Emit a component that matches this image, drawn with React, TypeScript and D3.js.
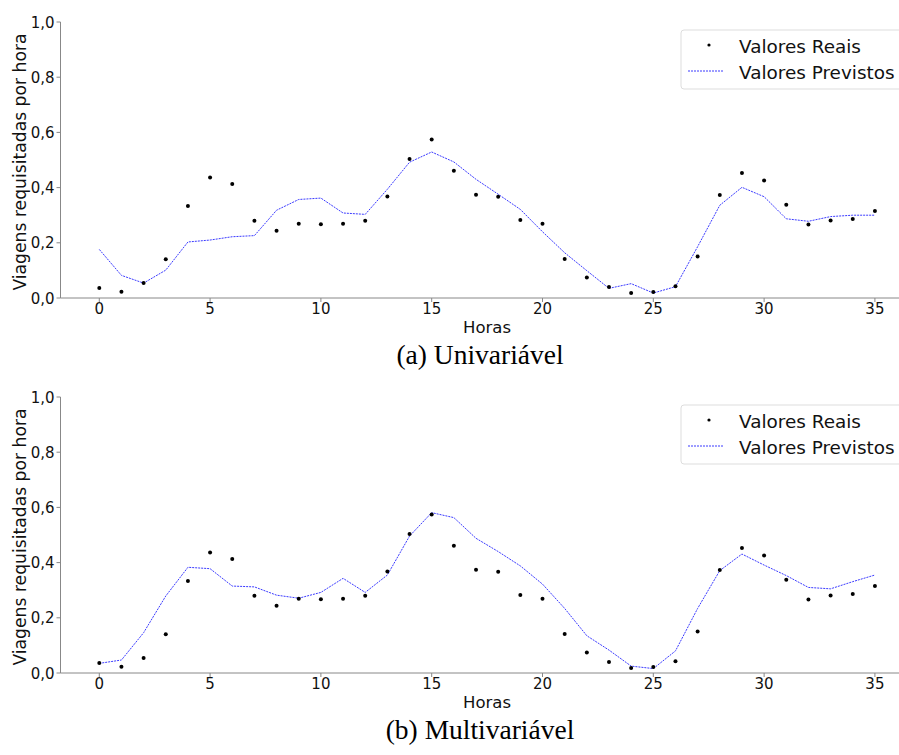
import React from "react";
import * as d3 from "d3";

const hours: number[] = Array.from({ length: 36 }, (_, i) => i);
const realValues: number[] = [
  0.036, 0.023, 0.054, 0.14, 0.333, 0.437, 0.413, 0.28, 0.244, 0.269, 0.267, 0.269,
  0.28, 0.368, 0.504, 0.574, 0.461, 0.374, 0.367, 0.283, 0.269, 0.141, 0.074, 0.04,
  0.018, 0.022, 0.043, 0.15, 0.373, 0.453, 0.426, 0.338, 0.266, 0.281, 0.286, 0.315,
];
const predUni: number[] = [
  0.176, 0.082, 0.054, 0.101, 0.203, 0.21, 0.222, 0.226, 0.318, 0.357, 0.362, 0.308,
  0.303, 0.394, 0.492, 0.529, 0.493, 0.43, 0.376, 0.321, 0.24, 0.164, 0.099, 0.035,
  0.052, 0.018, 0.041, 0.186, 0.336, 0.401, 0.367, 0.287, 0.278, 0.295, 0.3, 0.3,
];
const predMulti: number[] = [
  0.035, 0.047, 0.146, 0.279, 0.383, 0.378, 0.315, 0.312, 0.282, 0.271, 0.292, 0.343,
  0.292, 0.355, 0.496, 0.581, 0.563, 0.488, 0.44, 0.388, 0.322, 0.234, 0.135, 0.083,
  0.025, 0.016, 0.08, 0.234, 0.371, 0.431, 0.391, 0.353, 0.31, 0.305, 0.331, 0.355,
];
const xTicks: number[] = [0, 5, 10, 15, 20, 25, 30, 35];
const yTicks: number[] = [0, 0.2, 0.4, 0.6, 0.8, 1.0];
const captions: string[] = ["(a) Univariável", "(b) Multivariável"];
const legendLabels: string[] = ["Valores Reais", "Valores Previstos"];

const FONT = "DejaVu Sans, sans-serif";
const SPINE = "#888";
const TXT = "#111";

function Panel({ top, pred, caption }: { top: number; pred: number[]; caption: string }) {
  const x = d3.scaleLinear().domain([-1.75, 36.75]).range([60.5, 913.7]);
  const y = d3.scaleLinear().domain([0, 1]).range([top + 276, top]);
  const line = d3
    .line<number>()
    .x((_, i) => x(hours[i]))
    .y((d) => y(d));
  const fmt = (v: number) => v.toFixed(1).replace(".", ",");
  const y0 = y(0);
  const x0 = x(-1.75);
  return (
    <g>
      <line x1={x0} x2={913} y1={y0} y2={y0} stroke={SPINE} strokeWidth={1} />
      <line x1={x0} x2={x0} y1={y0} y2={y(1)} stroke={SPINE} strokeWidth={1} />
      {xTicks.map((t) => (
        <g key={"x" + t}>
          <line x1={x(t)} x2={x(t)} y1={y0} y2={y0 + 4} stroke={SPINE} />
          <text x={x(t)} y={y0 + 15.8} textAnchor="middle" fontFamily={FONT} fontSize={15} fill={TXT}>
            {t}
          </text>
        </g>
      ))}
      {yTicks.map((t) => (
        <g key={"y" + t}>
          <line x1={x0 - 4} x2={x0} y1={y(t)} y2={y(t)} stroke={SPINE} />
          <text x={x0 - 6} y={y(t) + 5.5} textAnchor="end" fontFamily={FONT} fontSize={15} fill={TXT}>
            {fmt(t)}
          </text>
        </g>
      ))}
      <text x={487} y={y0 + 35.3} textAnchor="middle" fontFamily={FONT} fontSize={16.5} fill={TXT}>
        Horas
      </text>
      <text
        transform={`translate(26,${(y0 + y(1)) / 2 + 2}) rotate(-90)`}
        textAnchor="middle"
        fontFamily={FONT}
        fontSize={17.2}
        fill={TXT}
      >
        Viagens requisitadas por hora
      </text>
      <path d={line(pred) || ""} fill="none" stroke="#3a3aff" strokeWidth={1} strokeDasharray="2,1" />
      {realValues.map((v, i) => (
        <circle key={i} cx={x(hours[i])} cy={y(v)} r={2} fill="#000" />
      ))}
      <rect x={681} y={top + 8} width={230} height={59} rx={3} fill="#fff" stroke="#ddd" />
      <circle cx={709} cy={top + 23} r={1.6} fill="#000" />
      <text x={739} y={top + 31} fontFamily={FONT} fontSize={18.4} fill={TXT}>
        {legendLabels[0]}
      </text>
      <line x1={688} x2={723} y1={top + 49} y2={top + 49} stroke="#3a3aff" strokeWidth={1} strokeDasharray="2,1" />
      <text x={739} y={top + 57} fontFamily={FONT} fontSize={18.4} fill={TXT}>
        {legendLabels[1]}
      </text>
      <text x={480} y={y0 + 66} textAnchor="middle" fontFamily="Liberation Serif, Times New Roman, serif" fontSize={27.5} fill="#000">
        {caption}
      </text>
    </g>
  );
}

export default function App() {
  return (
    <svg
      width={899}
      height={755}
      style={{ position: "absolute", left: 0, top: 0, background: "#fff" }}
    >
      <rect width={899} height={755} fill="#fff" />
      <Panel top={22} pred={predUni} caption={captions[0]} />
      <Panel top={397} pred={predMulti} caption={captions[1]} />
    </svg>
  );
}
